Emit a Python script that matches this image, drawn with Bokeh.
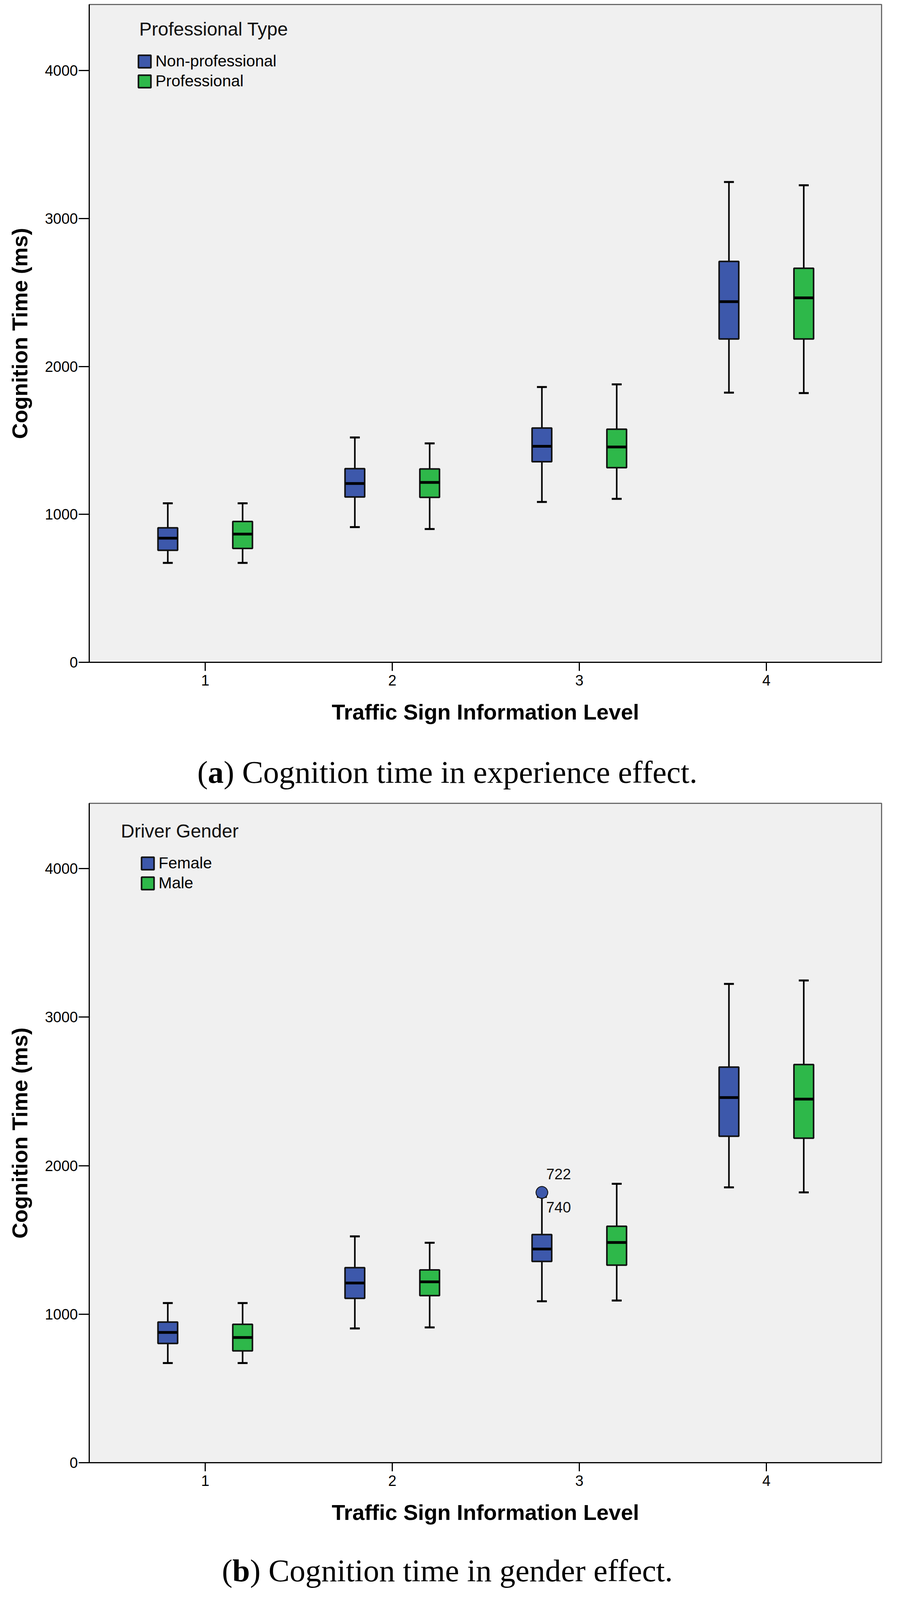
from bokeh.plotting import figure
from bokeh.models import ColumnDataSource, FixedTicker, Range1d, Legend, LegendItem, Label, Div
from bokeh.layouts import column
from bokeh.transform import dodge
from bokeh.core.properties import value
from bokeh.embed import file_html
from bokeh.resources import INLINE

# shared axes
levels = [1, 2, 3, 4]
level_labels = ["1", "2", "3", "4"]
y_ticks = [0, 1000, 2000, 3000, 4000]

# (a) experience effect: whisker low, Q1, median, Q3, whisker high per level
a_title = "Professional Type"
a_groups = ["Non-professional", "Professional"]
a_nonpro_low = [672, 914, 1084, 1823]
a_nonpro_q1 = [757, 1118, 1356, 2186]
a_nonpro_med = [839, 1209, 1460, 2438]
a_nonpro_q3 = [909, 1309, 1584, 2710]
a_nonpro_high = [1075, 1520, 1861, 3247]
a_pro_low = [672, 901, 1105, 1820]
a_pro_q1 = [770, 1115, 1316, 2186]
a_pro_med = [867, 1216, 1456, 2464]
a_pro_q3 = [952, 1307, 1576, 2664]
a_pro_high = [1075, 1480, 1879, 3225]

# (b) gender effect
b_title = "Driver Gender"
b_groups = ["Female", "Male"]
b_female_low = [671, 904, 1087, 1854]
b_female_q1 = [803, 1107, 1355, 2198]
b_female_med = [877, 1210, 1439, 2459]
b_female_q3 = [947, 1313, 1536, 2664]
b_female_high = [1075, 1524, 1790, 3224]
b_male_low = [671, 911, 1092, 1820]
b_male_q1 = [753, 1125, 1330, 2185]
b_male_med = [843, 1218, 1483, 2448]
b_male_q3 = [932, 1298, 1592, 2681]
b_male_high = [1075, 1481, 1878, 3247]
# outlier cases of the female group (two cases, same value)
b_outlier_level = [3, 3]
b_outlier_value = [1820, 1820]
b_outlier_id = ["722", "740"]

BLUE = "#3d58ab"
GREEN = "#2eb84a"
W = 2281
FONT = "Liberation Sans"


def make_chart(title, groups, series, y_end, frame_h, legend_margin, title_xy,
               outliers=None):
    p = figure(width=W, height=11 + frame_h + 175,
               x_range=Range1d(0.38, 4.616), y_range=Range1d(0, y_end),
               output_backend="svg", toolbar_location=None,
               min_border_left=228, min_border_right=24,
               min_border_top=11, min_border_bottom=175,
               background_fill_color="#f0f0f0", border_fill_color="white",
               x_axis_label="Traffic Sign Information Level",
               y_axis_label="Cognition Time (ms)")
    p.grid.visible = False
    p.outline_line_color = "#6a6a6a"
    p.outline_line_width = 3

    p.xaxis.ticker = FixedTicker(ticks=levels)
    p.xaxis.major_label_overrides = {lv: lb for lv, lb in zip(levels, level_labels)}
    p.yaxis.ticker = FixedTicker(ticks=y_ticks)
    p.axis.minor_tick_line_color = None
    p.axis.major_tick_in = 0
    p.xaxis.major_tick_out = 22
    p.yaxis.major_tick_out = 27
    p.axis.major_tick_line_width = 3
    p.axis.axis_line_width = 3
    p.axis.axis_line_color = "black"
    p.axis.major_label_text_font = FONT
    p.axis.major_label_text_font_size = "38px"
    p.axis.major_label_text_color = "black"
    p.xaxis.major_label_standoff = 10
    p.yaxis.major_label_standoff = 2
    p.axis.axis_label_text_font = FONT
    p.axis.axis_label_text_font_style = "bold"
    p.axis.axis_label_text_font_size = "56px"
    p.axis.axis_label_text_color = "black"
    p.xaxis.axis_label_standoff = 33
    p.yaxis.axis_label_standoff = 30

    box_w = 0.105
    cap_w = 0.053
    items = []
    for name, color, off, (low, q1, med, q3, high) in zip(groups, [BLUE, GREEN], [-0.2, 0.2], series):
        src = ColumnDataSource(dict(level=levels, low=low, q1=q1, med=med, q3=q3, high=high))
        xc = dodge("level", off, range=p.x_range)
        xl = dodge("level", off - cap_w / 2, range=p.x_range)
        xr = dodge("level", off + cap_w / 2, range=p.x_range)
        p.segment(x0=xc, y0="q3", x1=xc, y1="high", source=src, line_color="black", line_width=4)
        p.segment(x0=xc, y0="q1", x1=xc, y1="low", source=src, line_color="black", line_width=4)
        p.segment(x0=xl, y0="high", x1=xr, y1="high", source=src, line_color="black", line_width=5)
        p.segment(x0=xl, y0="low", x1=xr, y1="low", source=src, line_color="black", line_width=5)
        box = p.vbar(x=xc, width=box_w, top="q3", bottom="q1", source=src,
                     fill_color=color, line_color="#111111", line_width=4)
        bl = dodge("level", off - box_w / 2, range=p.x_range)
        br = dodge("level", off + box_w / 2, range=p.x_range)
        p.segment(x0=bl, y0="med", x1=br, y1="med", source=src, line_color="black", line_width=7)
        items.append(LegendItem(label=name, renderers=[box]))

    if outliers is not None:
        o_level, o_value, o_id = outliers
        osrc = ColumnDataSource(dict(level=o_level, value=o_value, ids=o_id,
                                     dy=[-47, 38][:len(o_id)]))
        ox = dodge("level", -0.2, range=p.x_range)
        p.scatter(x=ox, y="value", source=osrc, size=30, fill_color=BLUE,
                  line_color="#111111", line_width=2)
        p.text(x=ox, y="value", text="ids", source=osrc, x_offset=11, y_offset="dy",
               text_font=value(FONT), text_font_size="38px", text_color="#111111",
               text_baseline="middle", text_align="left")

    legend = Legend(items=items, location="top_left", margin=legend_margin, padding=0,
                    spacing=4, glyph_width=40, glyph_height=40, label_standoff=8,
                    label_text_font=FONT, label_text_font_size="41px",
                    label_text_color="black",
                    border_line_alpha=0, background_fill_alpha=0)
    p.add_layout(legend)
    tx, ty = title_xy
    p.add_layout(Label(x=tx, y=frame_h - ty, x_units="screen", y_units="screen",
                       text=title, text_baseline="middle", text_font=FONT,
                       text_font_size="48px", text_color="#111111"))
    return p


def caption(letter, rest, pad, height):
    html = ('<div style="width:%dpx;text-align:center;font-family:\'Liberation Serif\';'
            'font-size:81px;line-height:1;padding-top:%dpx;color:black;">'
            '(<b>%s</b>) %s</div>' % (W, pad, letter, rest))
    return Div(text=html, width=W, height=height)


p_a = make_chart(a_title, a_groups,
                 [(a_nonpro_low, a_nonpro_q1, a_nonpro_med, a_nonpro_q3, a_nonpro_high),
                  (a_pro_low, a_pro_q1, a_pro_med, a_pro_q3, a_pro_high)],
                 y_end=4447, frame_h=1684, legend_margin=122, title_xy=(128, 63))
p_b = make_chart(b_title, b_groups,
                 [(b_female_low, b_female_q1, b_female_med, b_female_q3, b_female_high),
                  (b_male_low, b_male_q1, b_male_med, b_male_q3, b_male_high)],
                 y_end=4440, frame_h=1688, legend_margin=130, title_xy=(81, 71),
                 outliers=(b_outlier_level, b_outlier_value, b_outlier_id))

layout = column(p_a, caption("a", "Cognition time in experience effect.", 62, 165),
                p_b, caption("b", "Cognition time in gender effect.", 57, 150))

open("out.html", "w").write(file_html(layout, INLINE))
